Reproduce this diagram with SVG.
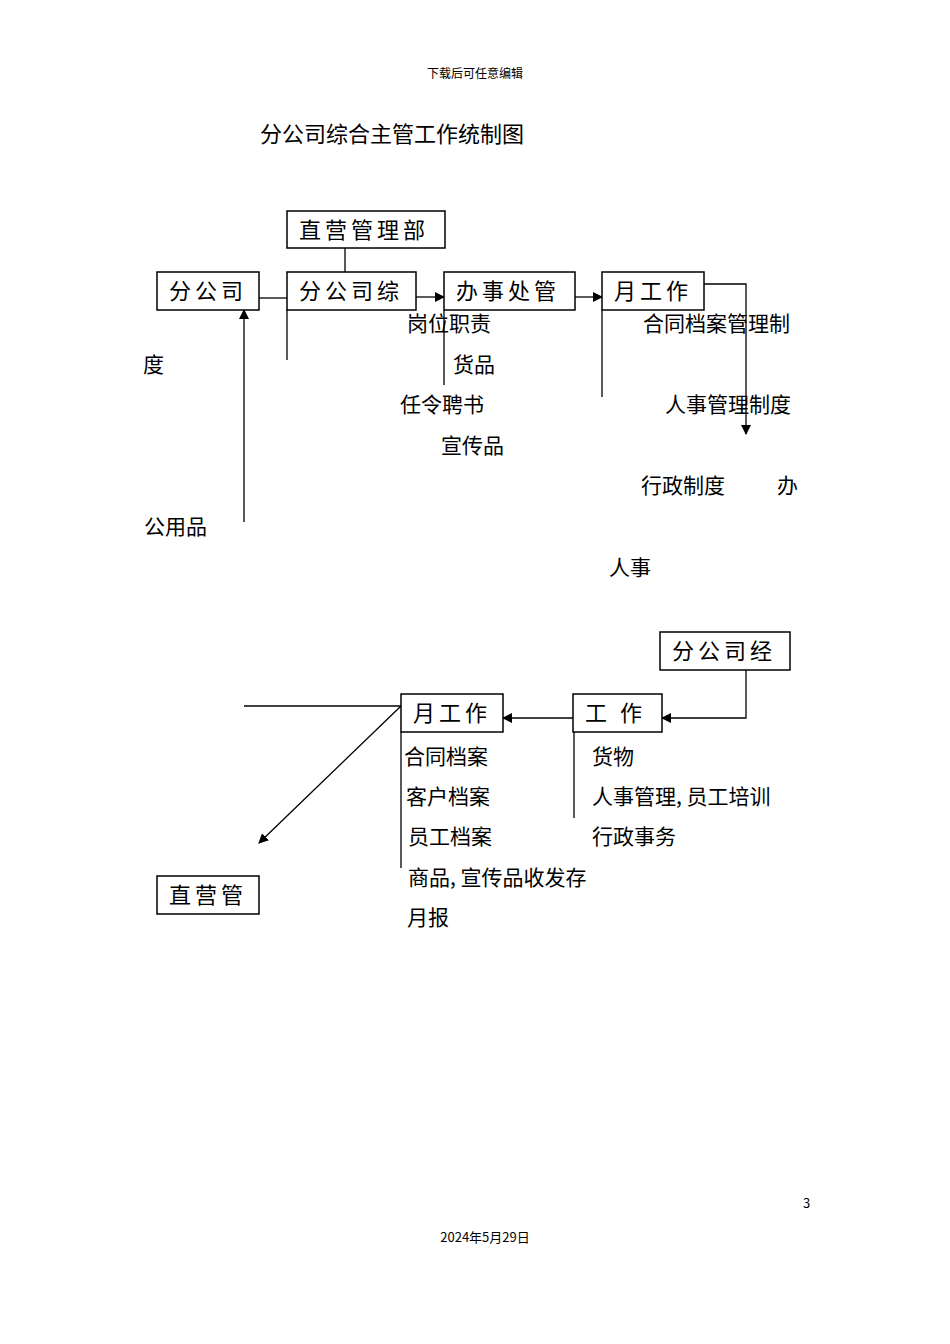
<svg xmlns="http://www.w3.org/2000/svg" width="950" height="1344" viewBox="0 0 950 1344">
<style>
text{font-family:"Noto Sans CJK SC","Noto Sans",sans-serif;fill:#000}
.t{font-size:21px}
.b{font-size:22px;letter-spacing:4px}
rect{fill:#fff;stroke:#000;stroke-width:1.5}
line,polyline{stroke:#000;stroke-width:1.3;fill:none}
.a{marker-end:url(#ar)}
</style>
<defs><marker id="ar" markerWidth="10" markerHeight="10" refX="9" refY="5" orient="auto" markerUnits="userSpaceOnUse"><path d="M0,0 L10,5 L0,10 z" fill="#000"/></marker></defs>
<rect width="950" height="1344" style="stroke:none"/>
<text x="475" y="78" font-size="12" text-anchor="middle">下载后可任意编辑</text>
<text x="260" y="142" font-size="22">分公司综合主管工作统制图</text>
<g id="connectors">
<line x1="345" y1="248" x2="345" y2="272"/>
<line x1="259" y1="298" x2="287" y2="298"/>
<line class="a" x1="416" y1="297" x2="444" y2="297"/>
<line class="a" x1="575" y1="297" x2="602" y2="297"/>
<polyline class="a" points="704,284 746,284 746,434"/>
<line x1="287" y1="310" x2="287" y2="360"/>
<line x1="444" y1="310" x2="444" y2="385"/>
<line x1="602" y1="310" x2="602" y2="397"/>
<line class="a" x1="244" y1="522" x2="244" y2="310"/>
<polyline class="a" points="746,670 746,718 662,718"/>
<line class="a" x1="573" y1="718" x2="503" y2="718"/>
<line x1="244" y1="706" x2="401" y2="706"/>
<line class="a" x1="401" y1="706" x2="259" y2="843"/>
<line x1="401" y1="732" x2="401" y2="868"/>
<line x1="574" y1="732" x2="574" y2="818"/>
</g>
<g id="n1"><rect x="287" y="211" width="158" height="37"/><text class="b" x="299" y="238">直营管理部</text></g>
<g id="n2"><rect x="157" y="272" width="102" height="38"/><text class="b" x="169" y="299">分公司</text></g>
<g id="n3"><rect x="287" y="272" width="129" height="38"/><text class="b" x="299" y="299">分公司综</text></g>
<g id="n4"><rect x="444" y="272" width="131" height="38"/><text class="b" x="456" y="299">办事处管</text></g>
<g id="n5"><rect x="602" y="272" width="102" height="38"/><text class="b" x="614" y="299">月工作</text></g>
<g id="n6"><rect x="660" y="632" width="130" height="38"/><text class="b" x="672" y="659">分公司经</text></g>
<g id="n7"><rect x="573" y="694" width="89" height="38"/><text class="b" x="585" y="721">工  作</text></g>
<g id="n8"><rect x="401" y="694" width="102" height="38"/><text class="b" x="413" y="721">月工作</text></g>
<g id="n9"><rect x="157" y="876" width="102" height="38"/><text class="b" x="169" y="903">直营管</text></g>
<g class="t">
<text x="407" y="331">岗位职责</text>
<text x="643" y="331">合同档案管理制</text>
<text x="143" y="372">度</text>
<text x="453" y="372">货品</text>
<text x="400" y="412">任令聘书</text>
<text x="665" y="412">人事管理制度</text>
<text x="441" y="453">宣传品</text>
<text x="641" y="493">行政制度</text>
<text x="777" y="493">办</text>
<text x="144" y="534">公用品</text>
<text x="609" y="575">人事</text>
<text x="404" y="764">合同档案</text>
<text x="592" y="764">货物</text>
<text x="406" y="804">客户档案</text>
<text x="592" y="804">人事管理, 员工培训</text>
<text x="408" y="844">员工档案</text>
<text x="592" y="844">行政事务</text>
<text x="408" y="885">商品, 宣传品收发存</text>
<text x="407" y="925">月报</text>
</g>
<text x="803" y="1208" font-size="13">3</text>
<text x="485" y="1242" font-size="13" text-anchor="middle">2024年5月29日</text>
</svg>
